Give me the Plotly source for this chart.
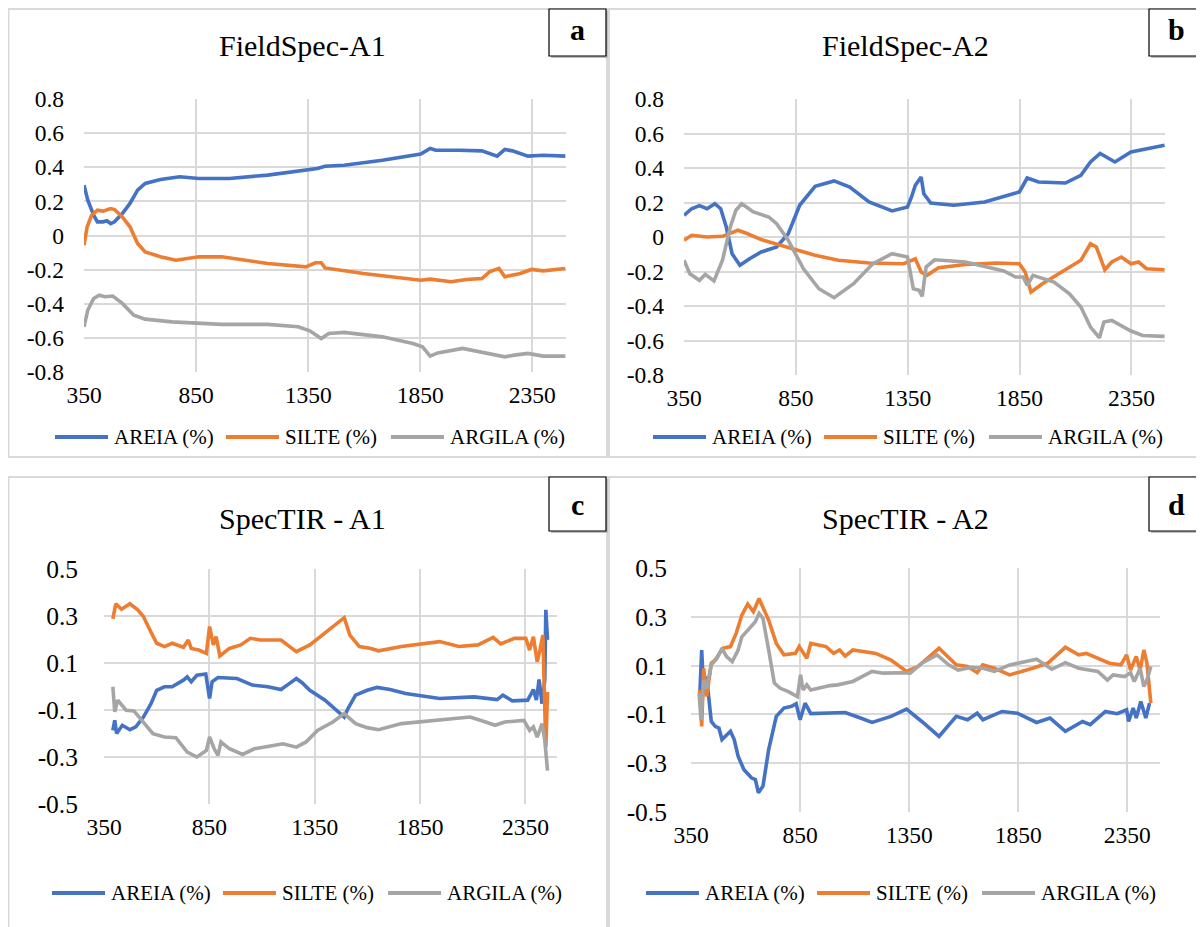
import plotly.graph_objects as go

# ---------------- DATA ----------------
# Panel a : FieldSpec-A1
FS_A1_AREIA_X = [350, 367, 393, 410, 435, 452, 469, 486, 521, 555, 589, 623, 691, 777, 862, 998, 1169, 1340, 1391, 1425, 1510, 1681, 1852, 1894, 1920, 2022, 2125, 2193, 2227, 2261, 2330, 2398, 2497]
FS_A1_AREIA_Y = [0.295, 0.207, 0.119, 0.08, 0.08, 0.086, 0.07, 0.08, 0.129, 0.188, 0.266, 0.305, 0.328, 0.344, 0.334, 0.334, 0.354, 0.387, 0.393, 0.406, 0.412, 0.441, 0.477, 0.51, 0.5, 0.5, 0.496, 0.465, 0.504, 0.496, 0.465, 0.47, 0.465]
FS_A1_SILTE_X = [350, 364, 384, 410, 435, 469, 486, 521, 555, 589, 623, 691, 760, 862, 964, 1084, 1169, 1340, 1382, 1408, 1425, 1596, 1766, 1852, 1894, 1988, 2056, 2125, 2159, 2201, 2227, 2296, 2346, 2398, 2497]
FS_A1_SILTE_Y = [-0.057, 0.05, 0.119, 0.148, 0.143, 0.158, 0.152, 0.109, 0.051, -0.047, -0.096, -0.125, -0.145, -0.125, -0.125, -0.145, -0.164, -0.184, -0.16, -0.16, -0.19, -0.223, -0.252, -0.262, -0.256, -0.271, -0.258, -0.252, -0.213, -0.193, -0.242, -0.223, -0.199, -0.207, -0.193]
FS_A1_ARGILA_X = [350, 367, 393, 418, 444, 478, 521, 572, 623, 742, 964, 1169, 1305, 1357, 1408, 1442, 1510, 1681, 1817, 1860, 1894, 1928, 2039, 2125, 2227, 2270, 2330, 2398, 2497]
FS_A1_ARGILA_Y = [-0.535, -0.437, -0.369, -0.35, -0.359, -0.355, -0.398, -0.467, -0.49, -0.506, -0.521, -0.521, -0.535, -0.559, -0.604, -0.574, -0.568, -0.594, -0.633, -0.652, -0.707, -0.688, -0.662, -0.682, -0.711, -0.701, -0.691, -0.707, -0.707]

# Panel b : FieldSpec-A2
FS_A2_AREIA_X = [350, 384, 419, 453, 488, 514, 539, 565, 600, 643, 695, 764, 816, 867, 936, 1021, 1091, 1177, 1280, 1349, 1367, 1384, 1410, 1422, 1453, 1556, 1694, 1797, 1849, 1866, 1884, 1935, 2055, 2124, 2167, 2210, 2276, 2348, 2417, 2498]
FS_A2_AREIA_Y = [0.126, 0.164, 0.182, 0.164, 0.193, 0.164, 0.058, -0.097, -0.164, -0.126, -0.087, -0.058, 0.019, 0.184, 0.294, 0.325, 0.29, 0.203, 0.151, 0.174, 0.232, 0.3, 0.348, 0.251, 0.197, 0.184, 0.203, 0.242, 0.261, 0.3, 0.342, 0.319, 0.313, 0.358, 0.435, 0.484, 0.435, 0.493, 0.513, 0.532]
FS_A2_SILTE_X = [350, 384, 453, 522, 591, 626, 695, 781, 850, 936, 1040, 1177, 1332, 1384, 1410, 1436, 1488, 1608, 1746, 1849, 1875, 1901, 1952, 2039, 2124, 2167, 2193, 2210, 2231, 2262, 2305, 2348, 2382, 2417, 2498]
FS_A2_SILTE_Y = [-0.019, 0.01, 0.0, 0.004, 0.039, 0.023, -0.015, -0.048, -0.077, -0.106, -0.135, -0.151, -0.155, -0.126, -0.203, -0.222, -0.178, -0.159, -0.151, -0.155, -0.203, -0.319, -0.271, -0.203, -0.135, -0.039, -0.058, -0.116, -0.19, -0.145, -0.116, -0.155, -0.145, -0.184, -0.19]
FS_A2_ARGILA_X = [350, 376, 419, 445, 484, 522, 557, 582, 608, 660, 729, 764, 816, 884, 953, 1021, 1108, 1194, 1280, 1349, 1375, 1401, 1415, 1432, 1470, 1608, 1780, 1832, 1866, 1884, 1910, 2004, 2073, 2124, 2167, 2207, 2227, 2262, 2348, 2400, 2498]
FS_A2_ARGILA_Y = [-0.135, -0.213, -0.251, -0.217, -0.255, -0.135, 0.058, 0.155, 0.193, 0.145, 0.116, 0.077, -0.019, -0.184, -0.3, -0.352, -0.271, -0.155, -0.097, -0.116, -0.3, -0.309, -0.344, -0.174, -0.132, -0.145, -0.197, -0.232, -0.232, -0.28, -0.222, -0.261, -0.329, -0.406, -0.522, -0.584, -0.493, -0.484, -0.545, -0.571, -0.576]

# Panel c : SpecTIR - A1
ST_A1_AREIA_X = [392, 401, 410, 437, 473, 501, 537, 573, 600, 637, 673, 727, 745, 764, 791, 833, 851, 863, 891, 981, 1018, 1054, 1127, 1190, 1226, 1263, 1290, 1327, 1399, 1490, 1508, 1544, 1599, 1645, 1708, 1781, 1943, 2107, 2216, 2243, 2288, 2361, 2388, 2402, 2415, 2429, 2442, 2447, 2455]
ST_A1_AREIA_Y = [-0.187, -0.144, -0.2, -0.165, -0.184, -0.172, -0.13, -0.073, -0.016, -0.001, -0.001, 0.027, 0.041, 0.02, 0.048, 0.053, -0.051, 0.02, 0.038, 0.034, 0.02, 0.006, -0.001, -0.013, 0.01, 0.034, 0.016, -0.016, -0.058, -0.13, -0.094, -0.037, -0.016, -0.004, -0.013, -0.03, -0.051, -0.044, -0.056, -0.037, -0.061, -0.058, -0.013, -0.058, 0.03, -0.073, 0.027, 0.326, 0.198]
ST_A1_SILTE_X = [392, 406, 433, 473, 510, 537, 564, 600, 637, 673, 727, 750, 764, 800, 836, 851, 869, 882, 900, 945, 999, 1045, 1090, 1190, 1263, 1290, 1327, 1490, 1517, 1562, 1617, 1653, 1762, 1943, 2034, 2125, 2197, 2233, 2297, 2352, 2370, 2388, 2406, 2419, 2433, 2447, 2455]
ST_A1_SILTE_Y = [0.288, 0.352, 0.329, 0.352, 0.326, 0.298, 0.248, 0.184, 0.17, 0.184, 0.167, 0.198, 0.162, 0.155, 0.141, 0.255, 0.177, 0.212, 0.13, 0.162, 0.177, 0.205, 0.198, 0.198, 0.148, 0.162, 0.177, 0.293, 0.219, 0.17, 0.162, 0.152, 0.17, 0.191, 0.17, 0.177, 0.209, 0.181, 0.205, 0.205, 0.155, 0.212, 0.105, 0.155, 0.219, -0.258, -0.023]
ST_A1_ARGILA_X = [392, 401, 415, 455, 492, 528, 582, 637, 691, 745, 791, 836, 851, 873, 891, 905, 945, 1008, 1063, 1127, 1199, 1263, 1309, 1363, 1436, 1490, 1544, 1599, 1653, 1762, 1943, 2088, 2161, 2206, 2252, 2343, 2370, 2388, 2406, 2429, 2442, 2455]
ST_A1_ARGILA_Y = [-0.001, -0.108, -0.058, -0.101, -0.104, -0.144, -0.201, -0.215, -0.218, -0.279, -0.3, -0.272, -0.215, -0.265, -0.293, -0.236, -0.265, -0.289, -0.265, -0.255, -0.244, -0.258, -0.236, -0.187, -0.151, -0.115, -0.158, -0.175, -0.184, -0.158, -0.144, -0.13, -0.151, -0.165, -0.151, -0.144, -0.187, -0.172, -0.215, -0.158, -0.229, -0.358]

# Panel d : SpecTIR - A2
ST_A2_AREIA_X = [390, 399, 408, 420, 431, 443, 461, 478, 492, 505, 531, 548, 566, 592, 627, 645, 659, 680, 706, 741, 776, 811, 832, 850, 873, 899, 987, 1057, 1127, 1180, 1267, 1338, 1408, 1487, 1566, 1618, 1662, 1688, 1776, 1846, 1934, 1996, 2066, 2145, 2180, 2250, 2303, 2347, 2356, 2377, 2391, 2412, 2435, 2452]
ST_A2_AREIA_Y = [-0.027, 0.164, 0.0, 0.055, -0.027, -0.129, -0.149, -0.156, -0.203, -0.19, -0.169, -0.203, -0.271, -0.326, -0.36, -0.367, -0.421, -0.394, -0.244, -0.108, -0.074, -0.067, -0.056, -0.122, -0.054, -0.097, -0.095, -0.092, -0.115, -0.133, -0.108, -0.078, -0.129, -0.19, -0.108, -0.122, -0.095, -0.122, -0.088, -0.095, -0.133, -0.115, -0.169, -0.129, -0.142, -0.088, -0.097, -0.081, -0.129, -0.074, -0.115, -0.047, -0.115, -0.054]
ST_A2_SILTE_X = [390, 399, 408, 422, 443, 461, 496, 531, 557, 583, 610, 636, 662, 680, 706, 741, 776, 829, 846, 881, 899, 969, 1004, 1031, 1057, 1092, 1197, 1267, 1338, 1390, 1487, 1566, 1618, 1662, 1688, 1741, 1811, 1916, 1986, 2066, 2127, 2162, 2215, 2268, 2321, 2347, 2365, 2391, 2409, 2426, 2440, 2458]
ST_A2_SILTE_Y = [0.0, -0.149, 0.089, -0.027, 0.11, 0.123, 0.171, 0.178, 0.232, 0.307, 0.352, 0.321, 0.375, 0.341, 0.286, 0.191, 0.144, 0.15, 0.178, 0.13, 0.191, 0.178, 0.15, 0.164, 0.139, 0.164, 0.15, 0.123, 0.076, 0.096, 0.171, 0.103, 0.096, 0.071, 0.103, 0.089, 0.062, 0.089, 0.11, 0.175, 0.144, 0.15, 0.13, 0.11, 0.103, 0.144, 0.082, 0.137, 0.082, 0.164, 0.11, -0.054]
ST_A2_ARGILA_X = [387, 396, 408, 422, 443, 469, 492, 513, 539, 566, 583, 618, 645, 662, 680, 706, 732, 759, 794, 838, 852, 864, 881, 899, 987, 1022, 1092, 1180, 1232, 1320, 1355, 1408, 1478, 1531, 1575, 1636, 1688, 1741, 1811, 1934, 2004, 2066, 2127, 2215, 2259, 2285, 2338, 2365, 2382, 2409, 2426, 2440, 2458]
ST_A2_ARGILA_Y = [-0.013, -0.122, 0.041, 0.007, 0.103, 0.13, 0.171, 0.137, 0.116, 0.164, 0.218, 0.256, 0.28, 0.314, 0.293, 0.164, 0.028, 0.007, -0.006, -0.027, 0.062, 0.0, 0.021, 0.0, 0.018, 0.021, 0.035, 0.076, 0.069, 0.071, 0.069, 0.11, 0.144, 0.103, 0.082, 0.093, 0.089, 0.076, 0.103, 0.126, 0.085, 0.112, 0.089, 0.076, 0.041, 0.062, 0.055, 0.071, 0.035, 0.089, 0.014, 0.041, 0.096]

SERIES_NAMES = ["AREIA (%)", "SILTE (%)", "ARGILA (%)"]
SERIES_COLORS = ["#4472C4", "#ED7D31", "#A5A5A5"]
PANEL_TITLES = ["FieldSpec-A1", "FieldSpec-A2", "SpecTIR - A1", "SpecTIR - A2"]
PANEL_LETTERS = ["a", "b", "c", "d"]
X_TICKS = [350, 850, 1350, 1850, 2350]
Y_TICKS_TOP = [-0.8, -0.6, -0.4, -0.2, 0, 0.2, 0.4, 0.6, 0.8]
Y_TICKS_BOTTOM = [-0.5, -0.3, -0.1, 0.1, 0.3, 0.5]

PANELS = [
    [(FS_A1_AREIA_X, FS_A1_AREIA_Y), (FS_A1_SILTE_X, FS_A1_SILTE_Y), (FS_A1_ARGILA_X, FS_A1_ARGILA_Y)],
    [(FS_A2_AREIA_X, FS_A2_AREIA_Y), (FS_A2_SILTE_X, FS_A2_SILTE_Y), (FS_A2_ARGILA_X, FS_A2_ARGILA_Y)],
    [(ST_A1_AREIA_X, ST_A1_AREIA_Y), (ST_A1_SILTE_X, ST_A1_SILTE_Y), (ST_A1_ARGILA_X, ST_A1_ARGILA_Y)],
    [(ST_A2_AREIA_X, ST_A2_AREIA_Y), (ST_A2_SILTE_X, ST_A2_SILTE_Y), (ST_A2_ARGILA_X, ST_A2_ARGILA_Y)],
]

# ---------------- LAYOUT (page pixels) ----------------
W, H = 1204, 927
OFF = 8  # the page body margin shifts the figure by 8 px right and down
FONT = "Liberation Serif"
# plot areas: x0, x1, y0(top), y1(bottom)
PLOT_BOX = [(84, 566, 99, 372), (684, 1165, 99, 375), (104, 557, 569, 804), (691, 1160, 568, 812)]
PANEL_BOX = [(8.5, 607, 9, 457), (609, 1214, 9, 457), (8.5, 607, 477, 940), (609, 1214, 477, 940)]
LETTER_BOX = [(549, 606, 9, 56), (1149, 1214, 9, 56), (549, 606, 477, 531), (1149, 1214, 477, 531)]
TITLE_POS = [(302, 45), (905, 45), (302, 518), (905, 518)]
LEGEND_Y = [437, 437, 893, 893]
LEGEND_STARTS = [[55, 226, 391], [653, 824, 989], [52, 223, 388], [646, 817, 982]]
YTICK_SIZE = [23.5, 23.5, 25.5, 25.5]
YTICK_STANDOFF = [19, 19, 25, 23]


def px(x):
    return (x - OFF) / W


def py(y):
    return 1 - (y - OFF) / H


fig = go.Figure()
shapes = []
annotations = []

for i, panel in enumerate(PANELS):
    k = "" if i == 0 else str(i + 1)
    for (xs, ys), name, col in zip(panel, SERIES_NAMES, SERIES_COLORS):
        fig.add_trace(go.Scatter(x=xs, y=ys, mode="lines", name=name,
                                 line=dict(color=col, width=3.6),
                                 xaxis="x" + k, yaxis="y" + k, showlegend=False))
    x0, x1, y0, y1 = PLOT_BOX[i]
    yt = Y_TICKS_TOP if i < 2 else Y_TICKS_BOTTOM
    yr = [-0.8, 0.8] if i < 2 else [-0.5, 0.5]
    fig.update_layout(**{
        "xaxis" + k: dict(domain=[px(x0), px(x1)], range=[350, 2500], anchor="y" + k,
                          tickvals=X_TICKS, ticktext=[str(v) for v in X_TICKS],
                          showgrid=True, gridcolor="#d9d9d9", gridwidth=1.5,
                          zeroline=False, showline=False, ticks="",
                          tickfont=dict(family=FONT, size=23.5, color="#000"),
                          ticklabelstandoff=6),
        "yaxis" + k: dict(domain=[py(y1), py(y0)], range=yr, anchor="x" + k,
                          tickvals=yt, ticktext=["%g" % v for v in yt],
                          showgrid=True, gridcolor="#d9d9d9", gridwidth=1.5,
                          zeroline=False, showline=False, ticks="",
                          tickfont=dict(family=FONT, size=YTICK_SIZE[i], color="#000"),
                          ticklabelstandoff=YTICK_STANDOFF[i]),
    })
    # panel border
    bx0, bx1, by0, by1 = PANEL_BOX[i]
    shapes.append(dict(type="rect", xref="paper", yref="paper", x0=px(bx0), x1=px(bx1),
                       y0=py(by1), y1=py(by0), line=dict(color="#d9d9d9", width=2), layer="below"))
    # letter box with shadow
    lx0, lx1, ly0, ly1 = LETTER_BOX[i]
    shapes.append(dict(type="rect", xref="paper", yref="paper", x0=px(lx0 + 2), x1=px(lx1 + 2),
                       y0=py(ly1 + 2), y1=py(ly0 + 2), line=dict(width=0), fillcolor="#bfbfbf"))
    shapes.append(dict(type="rect", xref="paper", yref="paper", x0=px(lx0), x1=px(lx1),
                       y0=py(ly1), y1=py(ly0), line=dict(color="#000", width=1.2), fillcolor="#fff"))
    annotations.append(dict(xref="paper", yref="paper", x=px((lx0 + min(lx1, 1204)) / 2),
                            y=py((min(ly0, 3 if i < 2 else ly0) + ly1) / 2 if i >= 2 else 29.5),
                            text="<b>%s</b>" % PANEL_LETTERS[i], showarrow=False,
                            font=dict(family=FONT, size=30, color="#000"), xanchor="center", yanchor="middle"))
    # title
    tx, ty = TITLE_POS[i]
    annotations.append(dict(xref="paper", yref="paper", x=px(tx), y=py(ty), text=PANEL_TITLES[i],
                            showarrow=False, font=dict(family=FONT, size=30, color="#000"),
                            xanchor="center", yanchor="middle"))
    # legend (drawn manually)
    ly = LEGEND_Y[i]
    for lx, name, col in zip(LEGEND_STARTS[i], SERIES_NAMES, SERIES_COLORS):
        shapes.append(dict(type="line", xref="paper", yref="paper", x0=px(lx), x1=px(lx + 53),
                           y0=py(ly), y1=py(ly), line=dict(color=col, width=3.8)))
        annotations.append(dict(xref="paper", yref="paper", x=px(lx + 57), y=py(ly), text=name,
                                showarrow=False, font=dict(family=FONT, size=21, color="#000"),
                                xanchor="left", yanchor="middle"))

fig.update_layout(width=W, height=H, margin=dict(l=0, r=0, t=0, b=0, pad=0, autoexpand=False),
                  paper_bgcolor="#fff", plot_bgcolor="#fff",
                  shapes=shapes, annotations=annotations, showlegend=False)

fig.write_html("out.html")
